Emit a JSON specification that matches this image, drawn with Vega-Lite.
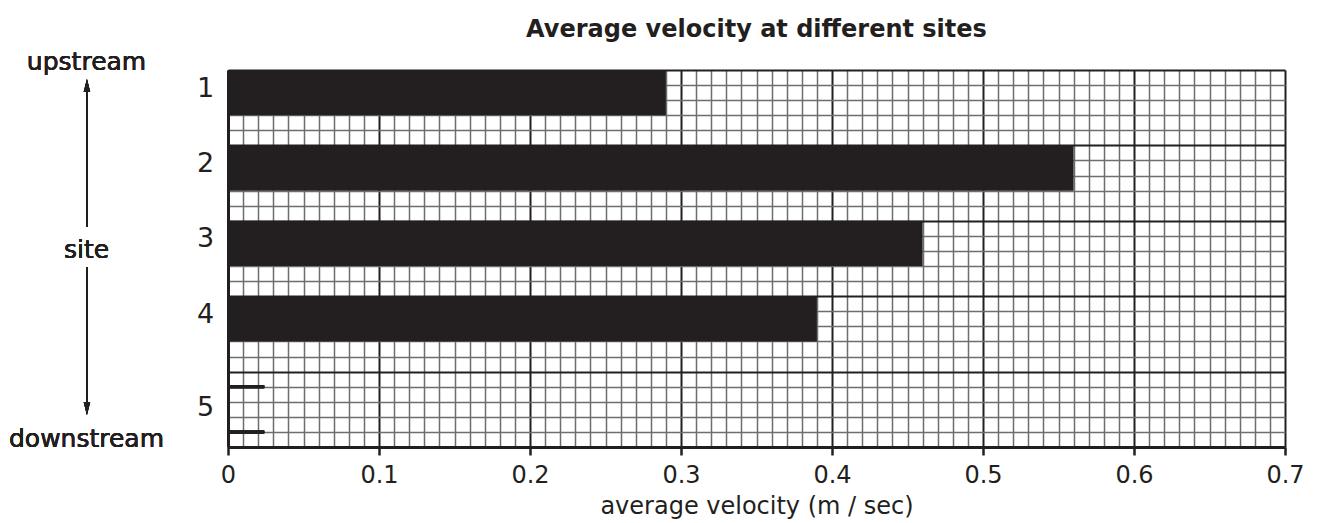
{
  "$schema": "https://vega.github.io/schema/vega-lite/v6.json",
  "width": 1057,
  "height": 377,
  "autosize": {"type": "none"},
  "padding": {"left": 228, "top": 70, "right": 34, "bottom": 76},
  "background": "white",
  "title": {
    "text": "Average velocity at different sites",
    "font": "DejaVu Sans",
    "fontSize": 24,
    "fontWeight": "bold",
    "color": "#231f20",
    "anchor": "middle",
    "frame": "group",
    "baseline": "alphabetic",
    "offset": -11
  },
  "config": {
    "view": {"stroke": null},
    "font": "DejaVu Sans"
  },
  "resolve": {"axis": {"x": "independent", "y": "independent"}},
  "data": {
    "values": [
      {"site": 1, "velocity": 0.29},
      {"site": 2, "velocity": 0.56},
      {"site": 3, "velocity": 0.46},
      {"site": 4, "velocity": 0.39},
      {"site": 5, "velocity": null}
    ]
  },
  "layer": [
    {
      "transform": [{"filter": "datum.velocity != null"}],
      "mark": {"type": "bar", "orient": "horizontal", "height": 45.24, "color": "#231f20"},
      "encoding": {
        "x": {
          "field": "velocity",
          "type": "quantitative",
          "scale": {"domain": [0, 0.7], "nice": false, "zero": true, "padding": 0},
          "axis": {
            "orient": "bottom",
            "title": "average velocity (m / sec)",
            "titleFont": "DejaVu Sans",
            "titleFontSize": 24,
            "titleFontWeight": "normal",
            "titleColor": "#231f20",
            "titlePadding": 7,
            "values": [0,0.01,0.02,0.03,0.04,0.05,0.06,0.07,0.08,0.09,0.1,0.11,0.12,0.13,0.14,0.15,0.16,0.17,0.18,0.19,0.2,0.21,0.22,0.23,0.24,0.25,0.26,0.27,0.28,0.29,0.3,0.31,0.32,0.33,0.34,0.35,0.36,0.37,0.38,0.39,0.4,0.41,0.42,0.43,0.44,0.45,0.46,0.47,0.48,0.49,0.5,0.51,0.52,0.53,0.54,0.55,0.56,0.57,0.58,0.59,0.6,0.61,0.62,0.63,0.64,0.65,0.66,0.67,0.68,0.69,0.7],
            "labelExpr": "abs(datum.value*10 - round(datum.value*10)) < 0.001 ? (datum.value == 0 ? '0' : format(datum.value, '.1f')) : ''",
            "labelOverlap": false,
            "labelFlush": false,
            "labelFont": "DejaVu Sans",
            "labelFontSize": 24,
            "labelColor": "#231f20",
            "labelPadding": 8,
            "domain": true,
            "domainColor": "#231f20",
            "domainWidth": 3,
            "ticks": true,
            "tickSize": 8,
            "tickWidth": 2.5,
            "tickColor": "#231f20",
            "tickOpacity": {"condition": {"test": "abs(datum.value*10 - round(datum.value*10)) < 0.001", "value": 1}, "value": 0},
            "grid": true,
            "gridColor": {"condition": {"test": "abs(datum.value*10 - round(datum.value*10)) < 0.001", "value": "#231f20"}, "value": "#6e6e6e"},
            "gridWidth": {"condition": {"test": "abs(datum.value*10 - round(datum.value*10)) < 0.001", "value": 2}, "value": 1.5},
            "gridOpacity": 1
          }
        },
        "y": {
          "field": "site",
          "type": "quantitative",
          "scale": {"domain": [0.7, 5.7], "nice": false, "zero": false, "reverse": true, "padding": 0},
          "axis": {
            "orient": "left",
            "title": null,
            "values": [0.7,0.9,1.1,1.3,1.5,1.7,1.9,2.1,2.3,2.5,2.7,2.9,3.1,3.3,3.5,3.7,3.9,4.1,4.3,4.5,4.7,4.9,5.1,5.3,5.5,5.7],
            "labels": false,
            "ticks": false,
            "domain": true,
            "domainColor": "#231f20",
            "domainWidth": 3,
            "grid": true,
            "gridColor": {"condition": {"test": "abs((datum.value-0.7) - round(datum.value-0.7)) < 0.001", "value": "#231f20"}, "value": "#6e6e6e"},
            "gridWidth": {"condition": {"test": "abs((datum.value-0.7) - round(datum.value-0.7)) < 0.001", "value": 2}, "value": 1.5},
            "gridOpacity": 1
          }
        }
      }
    },
    {
      "mark": {"type": "text", "font": "DejaVu Sans", "fontSize": 27, "color": "#231f20", "align": "center", "baseline": "middle", "dy": {"expr": "datum.site == 5 ? 14 : -4"}},
      "encoding": {
        "x": {"datum": -0.0149, "type": "quantitative", "axis": null},
        "y": {"field": "site", "type": "quantitative", "axis": null},
        "text": {"field": "site", "type": "nominal"}
      }
    },
    {
      "mark": {"type": "rule", "color": "#231f20", "strokeWidth": 3},
      "encoding": {
        "x": {"datum": 0, "type": "quantitative", "axis": null},
        "x2": {"datum": 0.024},
        "y": {"datum": 4.9, "type": "quantitative", "axis": null}
      }
    },
    {
      "mark": {"type": "rule", "color": "#231f20", "strokeWidth": 3},
      "encoding": {
        "x": {"datum": 0, "type": "quantitative", "axis": null},
        "x2": {"datum": 0.024},
        "y": {"datum": 5.5, "type": "quantitative", "axis": null}
      }
    },
    {
      "mark": {"type": "text", "font": "DejaVu Sans", "fontSize": 25, "color": "#231f20", "align": "center", "baseline": "alphabetic", "text": "upstream"},
      "encoding": {
        "x": {"datum": -0.0937, "type": "quantitative", "axis": null},
        "y": {"datum": 0.7, "type": "quantitative", "axis": null}
      }
    },
    {
      "mark": {"type": "text", "font": "DejaVu Sans", "fontSize": 25, "color": "#231f20", "align": "center", "baseline": "alphabetic", "text": "site"},
      "encoding": {
        "x": {"datum": -0.0937, "type": "quantitative", "axis": null},
        "y": {"datum": 3.193, "type": "quantitative", "axis": null}
      }
    },
    {
      "mark": {"type": "text", "font": "DejaVu Sans", "fontSize": 25, "color": "#231f20", "align": "center", "baseline": "alphabetic", "text": "downstream"},
      "encoding": {
        "x": {"datum": -0.0937, "type": "quantitative", "axis": null},
        "y": {"datum": 5.7, "type": "quantitative", "axis": null}
      }
    },
    {
      "mark": {"type": "rule", "color": "#231f20", "strokeWidth": 1.5},
      "encoding": {
        "x": {"datum": -0.0934, "type": "quantitative", "axis": null},
        "y": {"datum": 0.85, "type": "quantitative", "axis": null},
        "y2": {"datum": 2.782}
      }
    },
    {
      "mark": {"type": "rule", "color": "#231f20", "strokeWidth": 1.5},
      "encoding": {
        "x": {"datum": -0.0934, "type": "quantitative", "axis": null},
        "y": {"datum": 3.313, "type": "quantitative", "axis": null},
        "y2": {"datum": 5.25}
      }
    },
    {
      "mark": {"type": "point", "shape": "M0,-1L0.5,1L-0.5,1Z", "size": 169, "filled": true, "color": "#231f20", "opacity": 1},
      "encoding": {
        "x": {"datum": -0.0934, "type": "quantitative", "axis": null},
        "y": {"datum": 0.906, "type": "quantitative", "axis": null}
      }
    },
    {
      "mark": {"type": "point", "shape": "M0,1L0.5,-1L-0.5,-1Z", "size": 169, "filled": true, "color": "#231f20", "opacity": 1},
      "encoding": {
        "x": {"datum": -0.0934, "type": "quantitative", "axis": null},
        "y": {"datum": 5.19, "type": "quantitative", "axis": null}
      }
    }
  ]
}
